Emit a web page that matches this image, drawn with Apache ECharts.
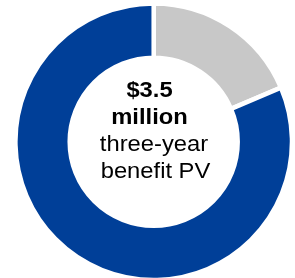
<!DOCTYPE html>
<html>
<head>
<meta charset="utf-8">
<script src="https://cdn.jsdelivr.net/npm/echarts@6/dist/echarts.min.js"></script>
<style>
html,body{margin:0;padding:0;background:#fff;}
#c{width:295px;height:278px;}
</style>
</head>
<body>
<div id="c"></div>
<script>
var categories = ['Other', 'Benefit'];
var values = [18.6, 81.4];
var colors = ['#c8c8c8', '#003f98'];
var centerBold = ['$3.5', 'million'];
var centerRegular = ['three-year', 'benefit PV'];

var chart = echarts.init(document.getElementById('c'), null, {renderer: 'canvas'});

var data = categories.map(function (c, i) {
  return {name: c, value: values[i], itemStyle: {color: colors[i]}};
});

var lineY = [91, 118, 144.5, 171.5];
var lineX = [149.5, 149.5, 154, 155.5];
var texts = centerBold.concat(centerRegular);
var graphics = texts.map(function (t, i) {
  return {
    type: 'text',
    x: lineX[i],
    y: lineY[i],
    scaleX: 1.08,
    style: {
      text: t,
      font: (i < 2 ? 'bold ' : '') + '22px "Liberation Sans", Arial, sans-serif',
      fill: '#000',
      textAlign: 'center',
      textVerticalAlign: 'middle'
    }
  };
});

chart.setOption({
  animation: false,
  backgroundColor: '#fff',
  series: [{
    type: 'pie',
    center: [153.7, 141.7],
    radius: [84, 138.3],
    startAngle: 90,
    clockwise: true,
    label: {show: false},
    labelLine: {show: false},
    emphasis: {disabled: true},
    silent: true,
    itemStyle: {borderColor: '#fff', borderWidth: 4.5},
    data: data
  }],
  graphic: graphics
});
</script>
</body>
</html>
